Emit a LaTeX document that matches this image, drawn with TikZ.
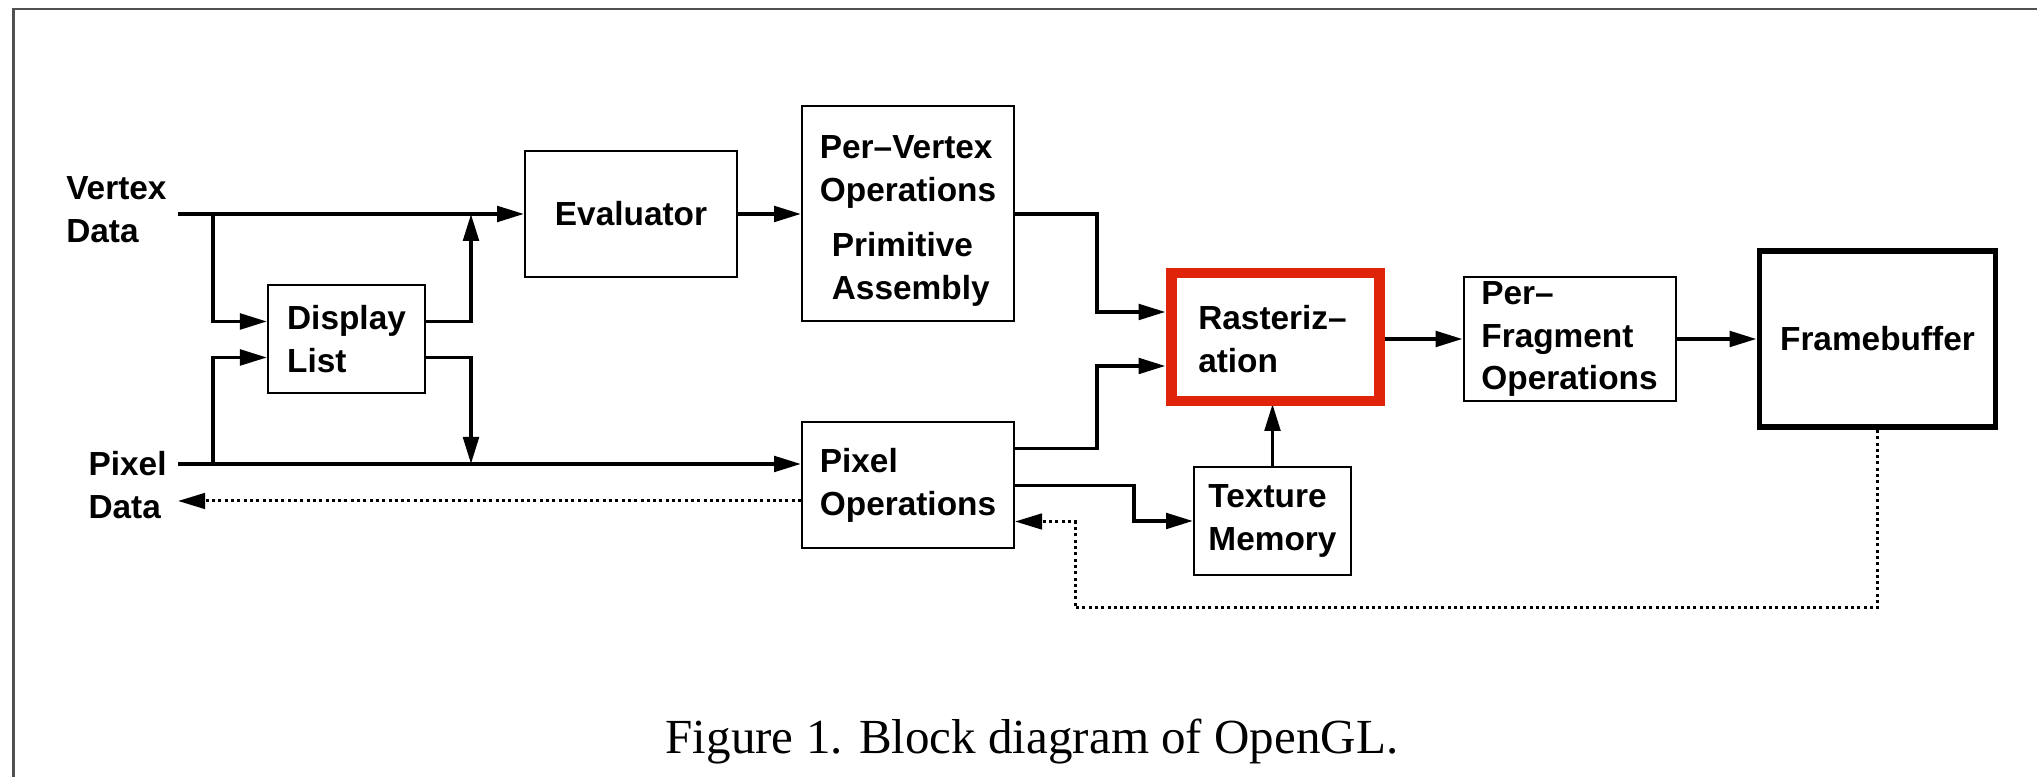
\documentclass[tikz,border=0pt]{standalone}
\usepackage{fontspec}
\setmainfont{Liberation Serif}
\newfontfamily\blockfont{Liberation Sans}
\usetikzlibrary{positioning,calc,arrows.meta}
\definecolor{cHil}{RGB}{224,36,10}
\definecolor{cFrm}{RGB}{80,80,80}

\begin{document}
\begin{tikzpicture}[
  font=\blockfont\bfseries\fontsize{9.5}{12.2}\selectfont,
  box/.style      = {draw, line width=0.57pt, align=left, inner xsep=2pt, inner ysep=0.5pt,
                     minimum width=21.2mm, minimum height=12.6mm},
  smallbox/.style = {box, minimum width=15.7mm, minimum height=10.8mm},
  io/.style       = {align=left, anchor=east, inner sep=0.5pt},
  flow/.style     = {-{Triangle[length=2.7mm,width=1.55mm]}, line width=1.08pt},
  back/.style     = {flow, line width=0.85pt, dash pattern=on 0.3mm off 0.33mm},
  hilite/.style   = {draw=cHil, line width=3pt},
  frm/.style      = {draw=cFrm, line width=0.6pt},
  caption/.style  = {font=\normalfont\fontsize{13.95}{16}\selectfont, anchor=base}
]
\useasboundingbox (0,0) rectangle (20.37,7.77);

% ------------------------------------------------------------- the blocks --
\node[box]                                (eval)    at (6.31,5.63) {Evaluator};
\node[box, minimum height=21.5mm,
      right=6.3mm of eval]                (pervtx)  {\rule{0pt}{3.7mm}Per\textendash Vertex\\Operations\\[3.4pt]%
                                                     \hspace*{1.2mm}Primitive\\\hspace*{1.2mm}Assembly};
\node[box, below=9.9mm of pervtx]         (pixops)  {Pixel\\Operations};
\node[smallbox]                           (dlist)   at (3.465,4.375) {Display\\List};
\node[box, minimum height=12.8mm]         (raster)  at (12.725,4.38) {Rasteriz\textendash\\ation};
\node[box, minimum height=12.4mm,
      right=8.3mm of raster]              (perfrag) {Per\textendash\\Fragment\\Operations};
\node[box, line width=1.7pt, align=center,
      minimum width=23.6mm, minimum height=17.6mm,
      right=8mm of perfrag]               (fbuf)    {Framebuffer};
\node[smallbox, below=6.2mm of raster]    (texmem)  {Texture\\Memory};

% ----------------------------------------------------------------- inputs --
\coordinate (vin)  at (1.78,5.63);
\coordinate (pin)  at (1.78,3.13);
\coordinate (pout) at (1.78,2.76);
\node[io] (vlab) at (1.69,5.67)  {Vertex\\Data};
\node[io] (plab) at (1.69,2.915) {Pixel\\Data};

% ------------------------------------------------------------------ edges --
\draw[flow] (vin) -- (eval);
\draw[flow] (pin) -- (pin -| pixops.west);
\draw[back] (pixops.west |- pout) -- (pout);

% both streams can go through the display list and come back out of it
\coordinate (vbr) at (2.13,5.63);
\coordinate (pbr) at (2.13,3.13);
\coordinate (dup) at (4.71,5.63);
\coordinate (ddn) at (4.71,3.13);
\draw[flow] (vbr) |- ([yshift=1.8mm]dlist.west);
\draw[flow] (pbr) |- ([yshift=-1.8mm]dlist.west);
\draw[flow] ([yshift=1.8mm]dlist.east) -| (dup);
\draw[flow] ([yshift=-1.8mm]dlist.east) -| (ddn);

\draw[flow] (eval) -- (pervtx);
\draw[flow] (pervtx.east) -- ++(8.2mm,0) |- ([yshift=2.7mm]raster.west);
\draw[flow] ([yshift=3.7mm]pixops.east) -- ++(8.2mm,0) |- ([yshift=-2.7mm]raster.west);
\draw[flow] (pixops.east) -- ++(11.9mm,0) |- (texmem.west);
\draw[flow] (texmem) -- (raster);
\draw[flow] (raster) -- (perfrag);
\draw[flow] (perfrag) -- (fbuf);

% read back from the framebuffer
\coordinate (fbk) at (10.75,1.69);
\draw[back] (fbuf.south) |- (fbk) |- ([yshift=-3.6mm]pixops.east);

% ------------------------------------------------------------ highlight --
\draw[hilite] ([shift={(0.6mm,0.3mm)}]raster.south west) rectangle ([shift={(0mm,0.1mm)}]raster.north east);

% -------------------------------------------------------- frame, caption --
\draw[frm] (0.135,0) |- (20.37,7.68);
\node[caption] (cap) at (10.32,0.23) {Figure 1. Block diagram of OpenGL.};

\end{tikzpicture}
\end{document}
